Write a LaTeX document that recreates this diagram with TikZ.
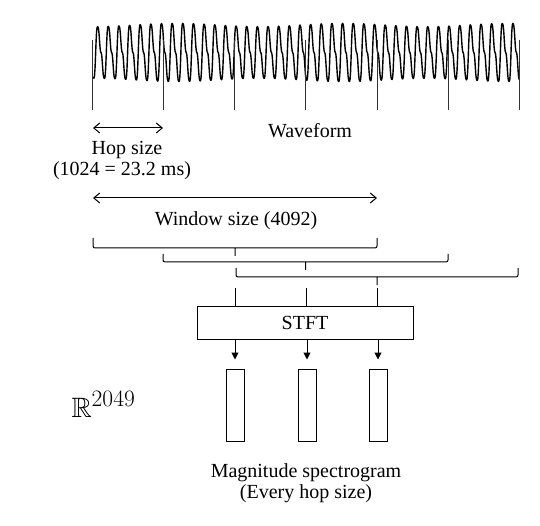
\RequirePackage{fix-cm}
\documentclass[tikz,border=0pt]{standalone}
\usepackage{amsmath,amssymb}
\usepackage[no-math]{fontspec}
\setmainfont{Liberation Serif}
\usepackage{tikz}
\usetikzlibrary{positioning,arrows.meta,calc}

\begin{document}
\begin{tikzpicture}[x=1pt, y=-1pt, line width=1pt,
  lbl/.style={font=\fontsize{20}{24}\selectfont, anchor=base, inner sep=0pt},
  span/.style={{Straight Barb[length=6pt,width=10pt]}-{Straight Barb[length=6pt,width=10pt]}},
  feed/.style={-{Triangle[length=7pt,width=7pt]}, shorten >=9pt},
  col/.style={draw, minimum width=18pt, minimum height=72pt, inner sep=0pt}]
\useasboundingbox (0,0) rectangle (540,526);
% waveform
\draw[line width=1.4pt, line join=round] plot[domain=0:40, samples=841]
  ({93+10.65*\x}, {52.5-26*(sin(360*frac(\x)-90)+0.3*sin(720*frac(\x)-180)+0.08*sin(1440*frac(\x)))*(1-0.06*cos(23*\x))});
\foreach \x in {92,163,234,305,377,448,519} \draw[black!80] (\x,40) -- (\x,110);
\node[lbl] (wavelbl) at (310,138) {Waveform};
% hop size
\coordinate (h1) at (93,128);
\coordinate (h2) at (163,128);
\draw[span] (h1) -- (h2);
\node[lbl] (hoplbl) at (127,155) {Hop size};
\node[lbl] (hopval) at (122,176) {(1024 = 23.2 ms)};
% window size
\coordinate (w1) at (93,198);
\coordinate (w2) at (377,198);
\draw[span] (w1) -- (w2);
\node[lbl] (winlbl) at (236,226) {Window size (4092)};
% windows
\foreach \a/\b/\t/\l in {93/377/238/248, 163/448/254/262, 236/518/268/277}
  \draw[rounded corners=2pt] (\a,\t) -- (\a,\l) -- (\b,\l) -- (\b,\t)
    (\a/2+\b/2,\l) -- (\a/2+\b/2,\l+8);
% stft
\node[draw, minimum width=216pt, minimum height=33pt, font=\fontsize{20}{24}\selectfont] (stft) at (305,322.5) {STFT};
\coordinate (f1) at (235,288);
\coordinate (f2) at (306,288);
\coordinate (f3) at (377,288);
\foreach \i in {1,2,3} \draw (f\i) -- (f\i |- stft.north);
% spectrogram columns
\node[col] (c1) at (235,405) {};
\node[col] (c2) at (307,405) {};
\node[col] (c3) at (378,405) {};
\foreach \i in {1,2,3} \draw[feed] (c\i |- stft.south) -- (c\i.north);
\node[anchor=base west, inner sep=0pt, font=\fontsize{28}{32}\selectfont] (dim) at (71,417) {$\mathbb{R}^{\scalebox{1.2}{$\scriptstyle 2049$}}$};
\node[lbl] (speclbl) at (306,477) {Magnitude spectrogram};
\node[lbl] (specval) at (306,498) {(Every hop size)};
\end{tikzpicture}
\end{document}
